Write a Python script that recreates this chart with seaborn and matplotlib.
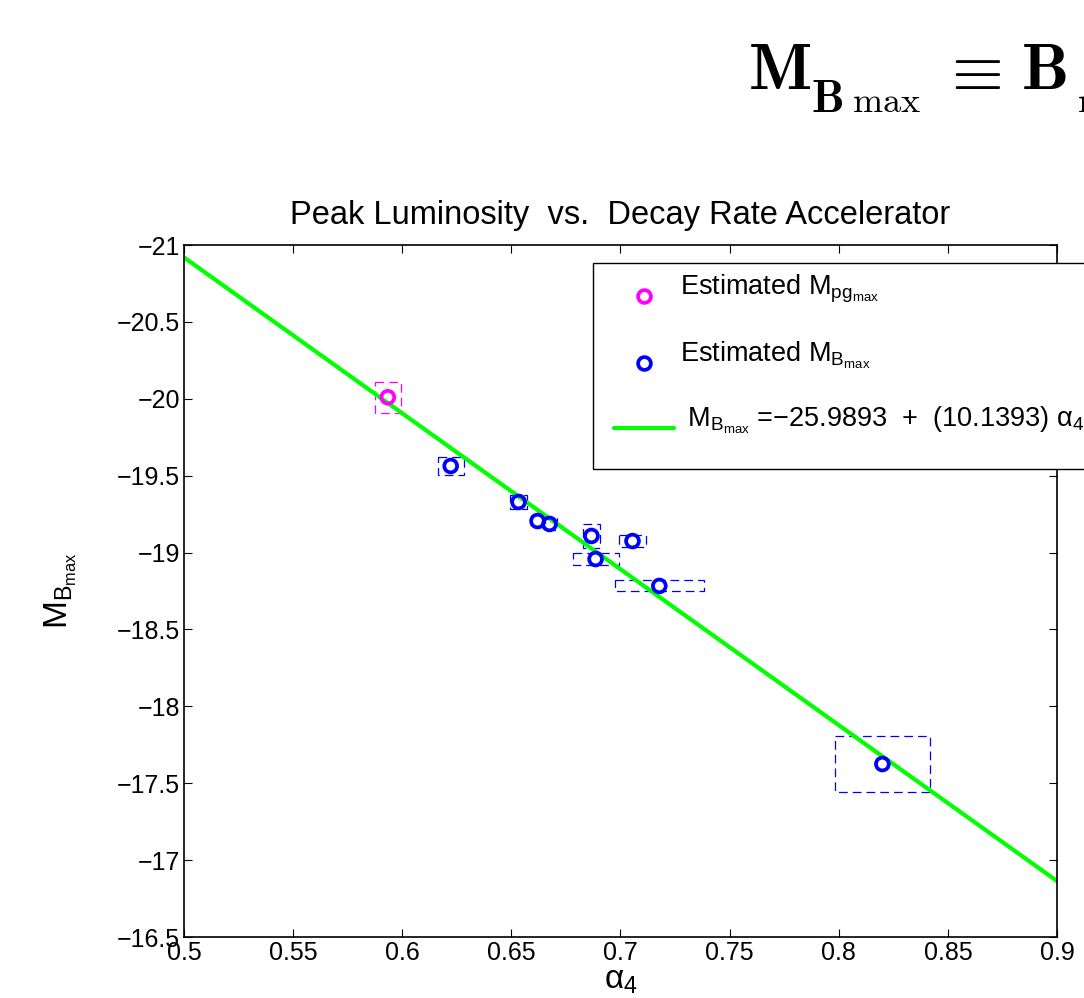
import matplotlib
matplotlib.use("Agg")
import matplotlib.pyplot as plt
import matplotlib.transforms as mtransforms
from matplotlib.lines import Line2D
from matplotlib.patches import Rectangle
import numpy as np
import pandas as pd
import seaborn as sns

# Reference object (magenta)
pg_alpha = [0.5934]
pg_mag = [-20.01]
pg_alpha_err = [0.006]
pg_mag_err = [0.10]

# Sample (blue)
alpha4 = [0.6222, 0.6533, 0.6620, 0.6675, 0.6867, 0.7055, 0.6886, 0.7178, 0.8200]
mag_b = [-19.563, -19.329, -19.205, -19.186, -19.108, -19.075, -18.958, -18.783, -17.625]
alpha4_err = [0.006, 0.0037, 0.0032, 0.0032, 0.0037, 0.0062, 0.0105, 0.0204, 0.0217]
mag_b_err = [0.06, 0.043, 0.04, 0.04, 0.08, 0.042, 0.042, 0.036, 0.182]

# Linear fit M_Bmax = a + b * alpha4
fit_a = -25.9893
fit_b = 10.1393
fit_range = [0.5, 0.9]

x_ticks = [0.5, 0.55, 0.6, 0.65, 0.7, 0.75, 0.8, 0.85, 0.9]
x_labels = ["0.5", "0.55", "0.6", "0.65", "0.7", "0.75", "0.8", "0.85", "0.9"]
y_ticks = [-21, -20.5, -20, -19.5, -19, -18.5, -18, -17.5, -17, -16.5]
y_labels = ["\u221221", "\u221220.5", "\u221220", "\u221219.5", "\u221219",
            "\u221218.5", "\u221218", "\u221217.5", "\u221217", "\u221216.5"]

sns.set_style("ticks")
plt.rcParams["font.family"] = ["Liberation Sans", "DejaVu Sans"]
plt.rcParams["mathtext.fontset"] = "custom"
plt.rcParams["mathtext.rm"] = "Liberation Sans"
plt.rcParams["mathtext.it"] = "Liberation Sans"
plt.rcParams["mathtext.bf"] = "Liberation Sans:bold"
plt.rcParams["text.color"] = "black"
plt.rcParams["axes.labelcolor"] = "black"

MAGENTA = "#ff00ff"
BLUE = "#0000ff"
GREEN = "#00ff00"

df_pg = pd.DataFrame({"alpha": pg_alpha, "mag": pg_mag})
df_b = pd.DataFrame({"alpha": alpha4, "mag": mag_b})
df_fit = pd.DataFrame({"alpha": fit_range})
df_fit["mag"] = fit_a + fit_b * df_fit["alpha"]

fig = plt.figure(figsize=(10.84, 9.98), dpi=100)
ax = fig.add_axes([0.1697, 0.0611, 0.8054, 0.6934])

# fit line
sns.lineplot(data=df_fit, x="alpha", y="mag", color=GREEN, linewidth=3, ax=ax, zorder=2)

# error boxes
for x, y, xe, ye in zip(pg_alpha, pg_mag, pg_alpha_err, pg_mag_err):
    ax.add_patch(Rectangle((x - xe, y - ye), 2 * xe, 2 * ye, fill=False,
                           ec=MAGENTA, lw=0.9, ls=(0, (7, 4)), zorder=1))
for x, y, xe, ye in zip(alpha4, mag_b, alpha4_err, mag_b_err):
    ax.add_patch(Rectangle((x - xe, y - ye), 2 * xe, 2 * ye, fill=False,
                           ec=BLUE, lw=0.9, ls=(0, (7, 4)), zorder=1))

sns.scatterplot(data=df_pg, x="alpha", y="mag", marker="o", s=85, facecolor="none",
                edgecolor=MAGENTA, linewidth=2.7, ax=ax, zorder=3)
sns.scatterplot(data=df_b, x="alpha", y="mag", marker="o", s=85, facecolor="none",
                edgecolor=BLUE, linewidth=2.7, ax=ax, zorder=3)

ax.set_xlim(0.5, 0.9)
ax.set_ylim(-16.5, -21)
ax.set_xticks(x_ticks)
ax.set_xticklabels(x_labels)
ax.set_yticks(y_ticks)
ax.set_yticklabels(y_labels)
ax.tick_params(direction="in", length=6, width=0.8, labelsize=18, top=True, right=True,
               colors="black", pad=3)
for sp in ax.spines.values():
    sp.set_visible(True)
    sp.set_color("black")
    sp.set_linewidth(1.2)

ax.set_title("Peak Luminosity  vs.  Decay Rate Accelerator", fontsize=23.5, pad=15)
ax.set_xlabel("\u03b1$_4$", fontsize=24, labelpad=0)
ax.set_ylabel("M$_{B_{max}}$", fontsize=24, labelpad=27)

handles = [
    Line2D([], [], ls="none", marker="o", ms=9.2, mfc="none", mec=MAGENTA, mew=2.7),
    Line2D([], [], ls="none", marker="o", ms=9.2, mfc="none", mec=BLUE, mew=2.7),
    Line2D([], [], color=GREEN, lw=3),
]
labels = [
    "Estimated M$_{pg_{max}}$",
    "Estimated M$_{B_{max}}$",
    " M$_{B_{max}}$ =\u221225.9893  +  (10.1393) \u03b1$_4$",
]
leg = ax.legend(handles, labels, loc="upper left", bbox_to_anchor=(0.4685, 0.974),
                borderaxespad=0, fontsize=19.5, frameon=True, fancybox=False,
                framealpha=1, edgecolor="black", handlelength=2.2, labelspacing=1.25,
                borderpad=0.78, handletextpad=0.22)
leg.get_frame().set_linewidth(1.0)
# labels sit a little above their symbols, as in the original
lift = mtransforms.ScaledTranslation(0, 8 / 72, fig.dpi_scale_trans)
for t in leg.get_texts():
    t.set_transform(t.get_transform() + lift)

# large heading, cut by the right edge as in the original
W, H = 1084, 998
heading = [
    (748, 89, r"$\mathbf{M}$", 48),
    (811, 112, r"$\mathbf{B}$", 33),
    (852, 112, r"$\mathrm{max}$", 26),
    (940, 89, r"$\equiv$", 48),
    (1021, 89, r"$\mathbf{B}$", 48),
    (1077, 112, r"$\mathrm{max}$", 26),
]
for px, py, txt, size in heading:
    fig.text(px / W, 1 - py / H, txt, fontsize=size, math_fontfamily="cm",
             ha="left", va="baseline")

fig.savefig("out.png", dpi=100)
